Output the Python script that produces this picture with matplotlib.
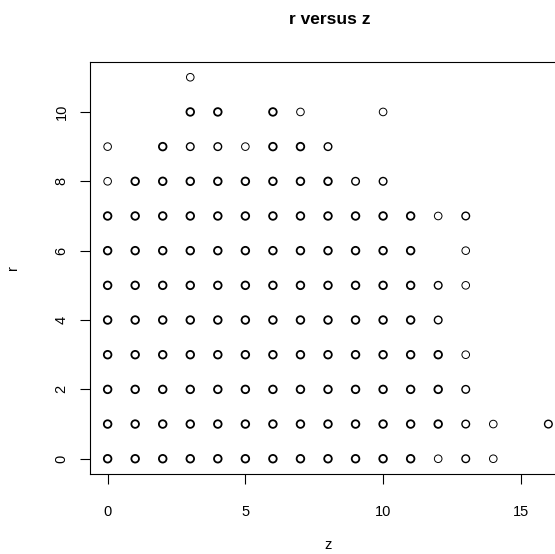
import matplotlib.pyplot as plt
import numpy as np

# observations: r values at each z (n = how many overplotted points)
r_vals = [0] * 15 + [1] * 16 + [2] * 14 + [3] * 14 + [4] * 13 + [5] * 14 \
    + [6] * 13 + [7] * 14 + [8] * 11 + [9] * 8 + [10] * 5 + [11]
z_vals = (list(range(15)) + list(range(15)) + [16] + list(range(14)) + list(range(14))
          + list(range(13)) + list(range(14)) + list(range(12)) + [13]
          + list(range(14)) + list(range(11))
          + [0, 2, 3, 4, 5, 6, 7, 8] + [3, 4, 6, 7, 10] + [3])
n_vals = ([3] * 12 + [1, 2, 1]
          + [3] * 13 + [2, 1, 2]
          + [3] * 13 + [2]
          + [3] * 13 + [1]
          + [3] * 12 + [2]
          + [3] * 12 + [2, 1]
          + [3] * 12 + [1]
          + [3] * 12 + [1, 2]
          + [1] + [3] * 8 + [2, 2]
          + [1, 3, 2, 2, 1, 3, 3, 2]
          + [3, 3, 3, 1, 1]
          + [1])

z = np.array(z_vals)
r = np.array(r_vals)
n = np.array(n_vals)
lw_map = {1: 0.7, 2: 1.0, 3: 1.3}

plt.rcParams['font.family'] = ['Liberation Sans', 'DejaVu Sans']
fig = plt.figure(figsize=(5.55, 5.54), dpi=100)
ax = fig.add_axes([90 / 555, 80 / 554, 476 / 555, 412 / 554])

for k in (1, 2, 3):
    m = n == k
    ax.scatter(z[m], r[m], s=30, facecolors='none', edgecolors='black',
               linewidths=lw_map[k], clip_on=False)

ax.set_xlim(-0.64, 16.64)
ax.set_ylim(-0.44, 11.44)
ax.set_xticks([0, 5, 10, 15])
ax.set_yticks([0, 2, 4, 6, 8, 10])
ax.tick_params(direction='out', length=7.5, width=0.8, labelsize=10.5)
ax.tick_params(axis='x', pad=14.5)
ax.tick_params(axis='y', pad=8)
for lab in ax.get_yticklabels():
    lab.set_rotation(90)
    lab.set_va('center')
for s in ax.spines.values():
    s.set_linewidth(0.8)

ax.set_xlabel('z', fontsize=10.5, labelpad=14)
ax.set_ylabel('r', fontsize=10.5, labelpad=25)
fig.text(330 / 555, 1 - 20 / 554, 'r versus z', ha='center', va='center',
         fontsize=12.5, fontweight='bold')

fig.savefig('out.png', dpi=100)
